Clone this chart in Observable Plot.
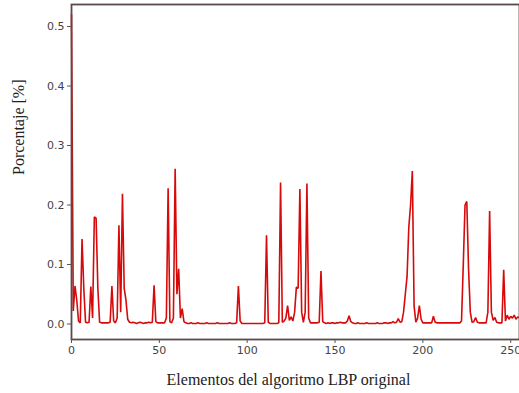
<!DOCTYPE html>
<html>
<head>
<meta charset="utf-8">
<script src="https://cdn.jsdelivr.net/npm/d3@7"></script>
<script src="https://cdn.jsdelivr.net/npm/@observablehq/plot@0.6"></script>
<style>
  html, body { margin: 0; padding: 0; background: #fff; }
  #chart svg { display: block; }
</style>
</head>
<body>
<div id="chart"></div>
<script>
// LBP histogram values (percentage) for elements 0..255
const values = [
  0.520, 0.022, 0.064, 0.040, 0.005, 0.002, 0.143, 0.060, 0.003, 0.002,
  0.003, 0.063, 0.010, 0.180, 0.178, 0.060, 0.003, 0.002, 0.002, 0.002,
  0.002, 0.002, 0.003, 0.064, 0.005, 0.002, 0.010, 0.166, 0.020, 0.219,
  0.060, 0.040, 0.008, 0.003, 0.002, 0.003, 0.002, 0.001, 0.002, 0.003,
  0.002, 0.001, 0.002, 0.002, 0.003, 0.002, 0.003, 0.065, 0.004, 0.002,
  0.002, 0.002, 0.002, 0.002, 0.010, 0.228, 0.004, 0.002, 0.010, 0.261,
  0.050, 0.093, 0.010, 0.026, 0.004, 0.002, 0.001, 0.001, 0.002, 0.001,
  0.001, 0.001, 0.002, 0.001, 0.001, 0.001, 0.001, 0.002, 0.001, 0.001,
  0.001, 0.001, 0.001, 0.002, 0.001, 0.001, 0.001, 0.001, 0.001, 0.001,
  0.002, 0.001, 0.001, 0.001, 0.002, 0.064, 0.005, 0.001, 0.001, 0.001,
  0.001, 0.001, 0.001, 0.001, 0.001, 0.001, 0.001, 0.001, 0.001, 0.001,
  0.002, 0.149, 0.003, 0.001, 0.001, 0.001, 0.001, 0.001, 0.002, 0.238,
  0.003, 0.005, 0.010, 0.031, 0.006, 0.012, 0.005, 0.020, 0.062, 0.060,
  0.227, 0.020, 0.003, 0.020, 0.236, 0.010, 0.002, 0.002, 0.002, 0.002,
  0.002, 0.003, 0.089, 0.004, 0.002, 0.001, 0.002, 0.001, 0.002, 0.002,
  0.001, 0.002, 0.002, 0.003, 0.002, 0.002, 0.002, 0.005, 0.014, 0.004,
  0.002, 0.001, 0.001, 0.002, 0.001, 0.001, 0.001, 0.001, 0.002, 0.001,
  0.001, 0.001, 0.001, 0.001, 0.002, 0.001, 0.001, 0.001, 0.002, 0.002,
  0.001, 0.002, 0.002, 0.004, 0.002, 0.003, 0.009, 0.003, 0.004, 0.020,
  0.050, 0.080, 0.163, 0.200, 0.257, 0.030, 0.003, 0.010, 0.031, 0.008,
  0.002, 0.002, 0.002, 0.002, 0.002, 0.002, 0.013, 0.003, 0.002, 0.002,
  0.002, 0.002, 0.002, 0.002, 0.002, 0.002, 0.002, 0.002, 0.002, 0.002,
  0.002, 0.002, 0.005, 0.100, 0.200, 0.206, 0.093, 0.020, 0.003, 0.004,
  0.011, 0.003, 0.002, 0.002, 0.002, 0.002, 0.002, 0.020, 0.190, 0.020,
  0.006, 0.011, 0.003, 0.002, 0.002, 0.002, 0.091, 0.005, 0.015, 0.008,
  0.013, 0.010, 0.015, 0.008, 0.012, 0.011
];
const xTicks = [0, 50, 100, 150, 200, 250];
const yTicks = [0.0, 0.1, 0.2, 0.3, 0.4, 0.5];
const xLabel = "Elementos del algoritmo LBP original";
const yLabel = "Porcentaje [%]";

const data = values.map((v, i) => ({i, v}));

const chart = Plot.plot({
  width: 519,
  height: 393,
  marginLeft: 71,
  marginRight: 0,
  marginTop: 4,
  marginBottom: 54,
  style: {background: "#fff", fontFamily: "DejaVu Sans"},
  x: {domain: [0, 255]},
  y: {domain: [-0.026, 0.537]},
  marks: [
    Plot.line(data, {x: "i", y: "v", stroke: "#d60a0a", strokeWidth: 1.6, strokeLinejoin: "miter"}),
    Plot.frame({stroke: "#5a4a4a", strokeWidth: 1.8}),
    Plot.axisX({ticks: xTicks, tickSize: 4, tickPadding: 3, fontSize: 11, fill: "#444", stroke: "#555", label: null}),
    Plot.axisY({ticks: yTicks, tickSize: 4, tickPadding: 3, fontSize: 11, fill: "#444", stroke: "#555", tickFormat: d3.format(".1f"), label: null}),
    Plot.text([xLabel], {frameAnchor: "bottom", dx: -7, dy: 45, fontFamily: "Liberation Serif", fontSize: 16, fill: "#222"}),
    Plot.text([yLabel], {frameAnchor: "left", rotate: -90, dx: -53, dy: 3, fontFamily: "Liberation Serif", fontSize: 16, fill: "#222"})
  ]
});
document.getElementById("chart").appendChild(chart);
</script>
</body>
</html>
